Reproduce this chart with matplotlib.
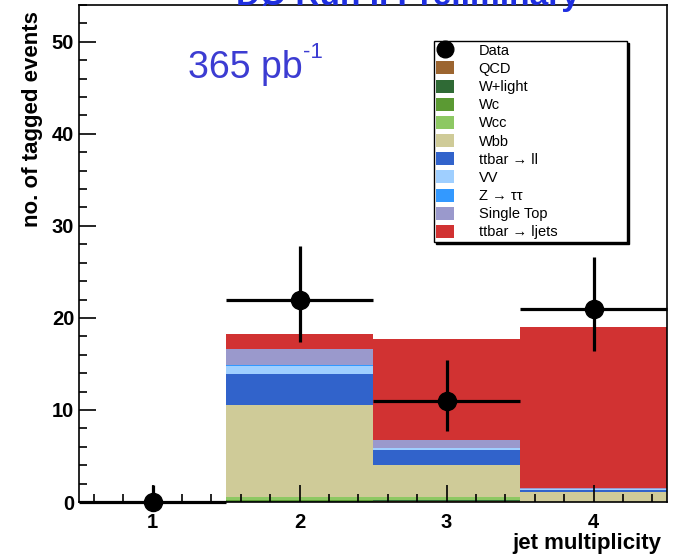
import matplotlib
matplotlib.use("Agg")
import matplotlib.pyplot as plt
from matplotlib.patches import Patch
from matplotlib.lines import Line2D
from matplotlib.ticker import MultipleLocator
import numpy as np

plt.rcParams['font.family'] = ['Liberation Sans', 'DejaVu Sans']

# jet multiplicity bins
njet = [1, 2, 3, 4]

# expected contributions per bin, stacked bottom to top
labels = ['QCD', 'W+light', 'Wc', 'Wcc', 'Wbb', 'ttbar \u2192 ll', 'VV',
          'Z \u2192 \u03c4\u03c4', 'Single Top', 'ttbar \u2192 ljets']
colors = ['#9c6530', '#2f6a35', '#5b9a33', '#8dc863', '#cfcb98', '#3163cb',
          '#9fcfff', '#3399ff', '#9a99cc', '#d13232']

qcd = [0, 0.05, 0.15, 0.02]
wlight = [0, 0.05, 0.05, 0.0]
wc = [0, 0.1, 0.05, 0.0]
wcc = [0, 0.3, 0.25, 0.03]
wbb = [0, 10.0, 3.5, 1.0]
tt_ll = [0, 3.4, 1.7, 0.3]
vv = [0, 0.9, 0.15, 0.05]
ztautau = [0, 0.05, 0.05, 0.0]
single_top = [0, 1.75, 0.8, 0.1]
tt_ljets = [0, 1.7, 11.0, 17.5]
stack = [qcd, wlight, wc, wcc, wbb, tt_ll, vv, ztautau, single_top, tt_ljets]

# observed tagged events with Poisson errors
data = [0, 22, 11, 21]
err_lo = [0, 4.66, 3.28, 4.56]
err_hi = [1.84, 5.77, 4.43, 5.66]

fig = plt.figure(figsize=(6.76, 5.55), dpi=100)
ax = fig.add_axes([79 / 676, 53 / 555, 588 / 676, 497 / 555])

bottom = np.zeros(len(njet))
for vals, col in zip(stack, colors):
    ax.bar(njet, vals, width=1.0, bottom=bottom, color=col, linewidth=0, zorder=1)
    bottom += np.array(vals)

ax.errorbar(njet, data, xerr=0.5, yerr=[err_lo, err_hi], fmt='o', color='black',
            ms=13, elinewidth=2.3, capsize=0, zorder=5, clip_on=False)

ax.set_xlim(0.5, 4.5)
ax.set_ylim(0, 54)
ax.xaxis.set_major_locator(MultipleLocator(1))
ax.xaxis.set_minor_locator(MultipleLocator(0.2))
ax.yaxis.set_major_locator(MultipleLocator(10))
ax.yaxis.set_minor_locator(MultipleLocator(2))
ax.tick_params(which='both', direction='in', width=1.2, top=False, right=False)
ax.tick_params(which='major', length=12, labelsize=14.5)
ax.tick_params(which='minor', length=6)
ax.tick_params(axis='x', which='major', pad=8)
for lab in ax.get_xticklabels() + ax.get_yticklabels():
    lab.set_fontweight('bold')
for sp in ax.spines.values():
    sp.set_linewidth(1.2)

ax.set_ylabel('no. of tagged events', fontsize=16, fontweight='bold')
ax.yaxis.set_label_coords(-0.062, 0.77)
ax.set_xlabel('jet multiplicity', fontsize=16, fontweight='bold', ha='right')
ax.xaxis.set_label_coords(0.99, -0.062)

lumi = ax.text(1.24, 46.1, '365 pb', fontsize=27, color='#3c3cd2', va='baseline')
ax.annotate('-1', xy=(1.0, 0.62), xycoords=lumi, fontsize=16, color='#3c3cd2',
            ha='left', va='bottom')
fig.text(0.604, 1 - 5 / 555, 'D\u00d8 Run II Preliminary', fontsize=24,
         fontweight='bold', color='#1f2fe0', ha='center', va='baseline')

handles = [Line2D([], [], marker='o', color='black', ls='', ms=12)]
handles += [Patch(facecolor=c, edgecolor='none') for c in colors]
leg = ax.legend(handles, ['Data'] + labels, loc='upper left',
                bbox_to_anchor=(0.604, 0.0, 0.328, 0.9276), mode='expand',
                borderaxespad=0, fontsize=10.5, labelspacing=0.25, borderpad=0.15,
                handlelength=1.2, handleheight=1.0, handletextpad=1.7,
                fancybox=False, framealpha=1, edgecolor='black',
                shadow={'color': 'black', 'alpha': 1, 'ox': 1.5, 'oy': -1.5})
leg.get_frame().set_linewidth(1.0)
leg.set_zorder(10)

fig.savefig('out.png', dpi=100)
